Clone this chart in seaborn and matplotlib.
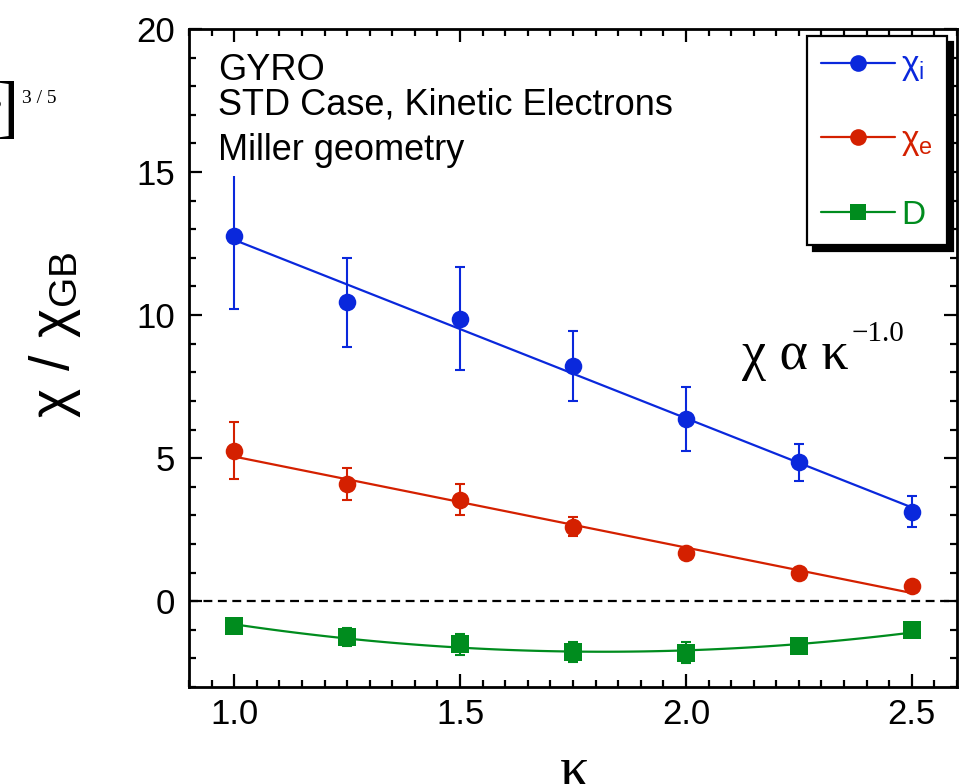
import numpy as np
import pandas as pd
import matplotlib
matplotlib.use('Agg')
import matplotlib.pyplot as plt
import seaborn as sns
from matplotlib.lines import Line2D

# ---- data ----
kappa = [1.0, 1.25, 1.5, 1.75, 2.0, 2.25, 2.5]
chi_i = [12.78, 10.44, 9.88, 8.22, 6.37, 4.85, 3.13]
chi_i_err = [2.56, 1.56, 1.79, 1.21, 1.11, 0.64, 0.55]
chi_e = [5.26, 4.09, 3.54, 2.61, 1.67, 0.99, 0.53]
chi_e_err = [1.0, 0.55, 0.54, 0.32, 0.15, 0.12, 0.10]
D_vals = [-0.88, -1.25, -1.51, -1.78, -1.80, -1.57, -1.02]
D_err = [0.15, 0.30, 0.37, 0.36, 0.36, 0.20, 0.15]
fit_orders = [1, 1, 2]
series_names = ['$\\mathregular{χ_i}$', '$\\mathregular{χ_e}$', 'D']
x_ticks = [1.0, 1.5, 2.0, 2.5]
y_ticks = [0, 5, 10, 15, 20]

blue = '#0a28dc'
red = '#d42000'
green = '#008c1e'

sns.set_style('ticks')
plt.rcParams['font.family'] = ['Liberation Sans', 'DejaVu Sans']
plt.rcParams['mathtext.default'] = 'regular'
for k in ['text.color', 'axes.labelcolor', 'xtick.color', 'ytick.color',
          'axes.edgecolor']:
    plt.rcParams[k] = 'black'

fig = plt.figure(figsize=(9.63, 7.84), dpi=100)
ax = fig.add_axes([189/963, 1-687/784, (957-189)/963, (687-29)/784])

series = [
    (chi_i, chi_i_err, blue, 'o'),
    (chi_e, chi_e_err, red, 'o'),
    (D_vals, D_err, green, 's'),
]

handles = []
for (vals, errs, col, mk), order, name in zip(series, fit_orders, series_names):
    sns.regplot(x=kappa, y=vals, ax=ax, scatter=False, ci=None, order=order,
                truncate=True, color=col, line_kws={'lw': 1.6, 'zorder': 2})
    ax.errorbar(kappa, vals, yerr=errs, fmt='none', ecolor=col,
                elinewidth=1.5, capsize=3.5, capthick=1.5, zorder=2)
    sns.scatterplot(x=kappa, y=vals, ax=ax, marker=mk, s=160, color=col,
                    edgecolor=col, linewidth=0, zorder=3)
    handles.append(Line2D([], [], color=col, lw=1.6, marker=mk,
                          markersize=12, markeredgewidth=0, label=name))

ax.axhline(0, color='black', lw=1.6, ls=(0, (4, 2.5)), zorder=1)

ax.set_xlim(0.9, 2.6)
ax.set_ylim(-3, 20)
ax.set_xticks(x_ticks)
ax.set_xticklabels([f'{v:.1f}' for v in x_ticks])
ax.set_yticks(y_ticks)
ax.set_xticks(np.arange(0.9, 2.6001, 0.05), minor=True)
ax.set_yticks(np.arange(-3, 20.001, 1), minor=True)
ax.tick_params(which='both', direction='in', top=True, right=True,
               width=1.6, labelsize=25, color='black', labelcolor='black')
ax.tick_params(which='major', length=9.5)
ax.tick_params(which='minor', length=5)
ax.tick_params(axis='y', pad=10)
ax.tick_params(axis='x', pad=8)
for sp in ax.spines.values():
    sp.set_linewidth(2)
    sp.set_color('black')
ax.set_xlabel('')
ax.set_ylabel('')

# text block
ax.text(0.9636, 18.22, 'GYRO', fontsize=26, va='baseline', ha='left', zorder=5)
ax.text(0.9636, 17.0, 'STD Case, Kinetic Electrons', fontsize=26,
        va='baseline', ha='left', zorder=5)
ax.text(0.9636, 15.42, 'Miller geometry', fontsize=26, va='baseline',
        ha='left', zorder=5,
        bbox=dict(facecolor='white', edgecolor='none', pad=6))

# scaling annotation
ax.text(2.123, 8.12, 'χ α κ', fontsize=39, family='Liberation Serif',
        va='baseline', ha='left')
ax.text(2.366, 9.1, '−1.0', fontsize=21, family='Liberation Serif',
        va='baseline', ha='left')

# legend
leg = ax.legend(handles=handles, loc='upper right',
                bbox_to_anchor=(0.987, 0.989), borderaxespad=0,
                fontsize=24, labelcolor='linecolor', frameon=True,
                fancybox=False, edgecolor='black', framealpha=1,
                handlelength=2.2, handletextpad=0.2, labelspacing=1.25,
                borderpad=0.42,
                shadow={'color': 'black', 'alpha': 1, 'ox': 4.5, 'oy': -4.5})
leg.get_frame().set_linewidth(1.6)

# axis labels (partly cut by the figure border, as in the reference)
fig.text(55/963, 1-335/784, '$\\mathregular{χ\\ /\\ χ_{GB}}$', fontsize=40,
         rotation=90, ha='center', va='center')
fig.text(575/963, 1-786/784, 'κ', fontsize=42, family='Liberation Serif',
         ha='center', va='baseline')
fig.text(-4/963, 1-108/784, '•', fontsize=24, family='Liberation Serif',
         ha='center', va='center')
fig.text(19/963, 1-130/784, ']', fontsize=50, family='Liberation Serif',
         ha='right', va='baseline')
fig.text(22/963, 1-103/784, '3 / 5', fontsize=14, family='Liberation Serif',
         ha='left', va='baseline')

fig.savefig('out.png', dpi=100)
